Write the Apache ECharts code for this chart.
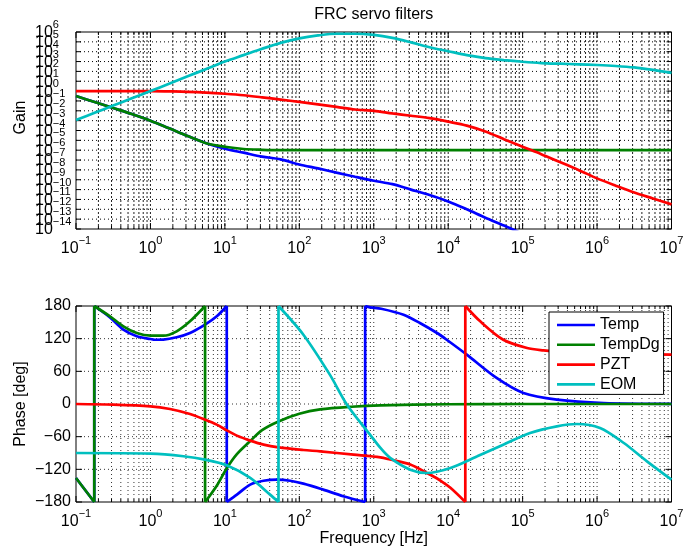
<!DOCTYPE html>
<html><head><meta charset="utf-8">
<script src="https://cdn.jsdelivr.net/npm/echarts@6/dist/echarts.min.js"></script>
<style>html,body{margin:0;padding:0;background:#fff}#c{width:685px;height:554px}</style>
</head><body><div id="c"></div>
<script>
// ---------- data ----------
const seriesNames = ['Temp', 'TempDg', 'PZT', 'EOM'];
const seriesColors = ['#0000ff', '#008000', '#ff0000', '#00bfbf'];

// Gain (magnitude) plot, frequency in Hz
const gainFreq = [0.1, 0.178, 0.316, 0.562, 1, 1.78, 3.16, 5.62, 10, 17.8, 31.6, 56.2, 100, 178, 316, 562,
  1000, 1780, 3160, 5620, 1e4, 1.78e4, 3.16e4, 5.62e4, 1e5, 1.78e5, 3.16e5, 5.62e5, 1e6, 1.78e6, 3.16e6, 5.62e6, 1e7];
const tempGain = [0.316, 0.0776, 0.0191, 0.00468, 0.001, 1.66e-4, 2.75e-5, 5.01e-6, 1.41e-6, 5.62e-7, 2.24e-7, 1.17e-7,
  3.55e-8, 1.41e-8, 5.25e-9, 2.0e-9, 7.94e-10, 3.55e-10, 1e-10, 2.82e-11, 6.31e-12, 1e-12, 1.41e-13, 2.24e-14, 3.16e-15];
const tempDgGain = [0.316, 0.0776, 0.0191, 0.00468, 0.001, 1.66e-4, 2.75e-5, 5.01e-6, 2.24e-6, 1.32e-6, 1.10e-6,
  1e-6, 1e-6, 1e-6, 1e-6, 1e-6, 1e-6, 1e-6, 1e-6, 1e-6, 1e-6, 1e-6, 1e-6, 1e-6, 1e-6, 1e-6, 1e-6, 1e-6, 1e-6, 1e-6, 1e-6, 1e-6, 1e-6];
const pztGain = [1, 1, 1, 1, 1, 0.933, 0.851, 0.708, 0.537, 0.380, 0.234, 0.138, 0.0794, 0.0447, 0.0251, 0.0135,
  0.01, 0.00537, 0.00316, 0.00178, 7.94e-4, 3.16e-4, 7.94e-5, 1.32e-5, 2.24e-6, 3.98e-7, 6.31e-8, 1e-8,
  1.38e-9, 2.51e-10, 5.01e-11, 1.26e-11, 3.16e-12];
const eomGain = [1.17e-3, 6.31e-3, 0.0339, 0.186, 1, 5.62, 31.6, 178, 1000, 4470, 2.0e4, 7.94e4, 2.29e5, 4.47e5,
  6.61e5, 6.61e5, 5.01e5, 2.51e5, 8.91e4, 2.82e4, 1.12e4, 4470, 2240, 1410, 955, 708, 603, 525, 447, 355, 251, 141, 70.8];

// Phase plot (deg), wrapped to [-180, 180]; a repeated frequency marks a wrap
const tempPhFreq = [0.1, 0.176, 0.176, 0.286, 0.433, 0.655, 1.0, 1.15, 1.49, 2.25, 3.40, 5.42, 7.78, 10.6, 10.6,
  14.5, 21.9, 33.1, 50.1, 75.2, 113.5, 209, 389, 767, 767, 891, 1259, 2512, 4169, 7079, 9550, 17783, 44668,
  102329, 288403, 1.23e6, 1e7];
const tempPh = [-136, -180, 180, 159, 136.5, 124.3, 119.4, 118, 118.3, 122.5, 130.4, 145.7, 161, 180, -180,
  -166.5, -148, -141, -139, -141, -146.3, -157.3, -169.4, -180, 180, 177.6, 175, 164, 148.8, 130.4, 118, 90.6, 47.8,
  20.2, 8, 1.8, 0.3];
const tempDgPhFreq = [0.1, 0.176, 0.176, 0.286, 0.433, 0.655, 1.0, 1.49, 2.25, 3.40, 5.42, 5.42, 7.78, 10.6, 14.5,
  21.9, 31.6, 52.5, 100, 190.5, 501, 1230, 1e4, 1e5, 1e7];
const tempDgPh = [-136, -180, 180, 161, 142.7, 130.4, 125.5, 125.5, 133.5, 151.9, 180, -180, -150, -118, -92,
  -68, -48, -32, -18, -10, -5, -2.4, -0.5, 0, 0];
const pztPhFreq = [0.1, 0.316, 1.0, 1.83, 3.40, 5.42, 7.78, 10.6, 14.5, 21.9, 33.1, 52.5, 113.5, 190.5, 537, 1230,
  1660, 3090, 5754, 7943, 10715, 16982, 16982, 26915, 54954, 114815, 190546, 316228, 1e6, 3.16e6, 1e7];
const pztPh = [0, -1.2, -4.3, -9.2, -18.4, -28.8, -37.9, -48.4, -58.1, -67.3, -74.7, -79.6, -84.5, -87, -93, -98,
  -102, -111, -130, -141, -154, -180, 180, 151.8, 118, 102.8, 98.5, 96, 93, 91.5, 90.6];
const eomPhFreq = [0.1, 1.0, 2.77, 5.42, 10.6, 21.9, 40.5, 52.5, 52.5, 113.5, 257, 437, 891, 1230, 1660, 3090,
  5129, 10715, 24547, 54954, 125893, 288403, 537032, 1.096e6, 2.29e6, 4.68e6, 1e7];
const eomPh = [-90, -91.2, -96, -102.2, -112.6, -135.9, -166.5, -180, 180, 127.3, 53.9, -1.2, -56.3, -80.8, -99,
  -120.6, -126.7, -117.5, -96, -74.7, -53.2, -41, -36.7, -44, -71.6, -105.3, -139];

// Tick values and labels
const freqTicks = [0.1, 1, 10, 100, 1e3, 1e4, 1e5, 1e6, 1e7];
const freqTickExp = ['\u22121', '0', '1', '2', '3', '4', '5', '6', '7'];
const gainTicks = [1e6, 1e5, 1e4, 1e3, 100, 10, 1, 0.1, 0.01, 1e-3, 1e-4, 1e-5, 1e-6, 1e-7, 1e-8, 1e-9, 1e-10,
  1e-11, 1e-12, 1e-13, 1e-14];
const gainTickExp = ['6', '5', '4', '3', '2', '1', '0', '\u22121', '\u22122', '\u22123', '\u22124', '\u22125',
  '\u22126', '\u22127', '\u22128', '\u22129', '\u221210', '\u221211', '\u221212', '\u221213', '\u221214'];
const phaseTicks = [180, 120, 60, 0, -60, -120, -180];
const phaseTickLabels = ['180', '120', '60', '0', '\u221260', '\u2212120', '\u2212180'];

// ---------- drawing ----------
const FONT = '"Liberation Sans", Arial, Helvetica, sans-serif';
const F16 = '16px ' + FONT, F11 = '11px ' + FONT;
const mctx = document.createElement('canvas').getContext('2d');
function tw(t, f) { mctx.font = f; return mctx.measureText(t).width; }

const xGridVals = [];
for (let d = -1; d <= 6; d++) for (let m = 1; m <= 9; m++) xGridVals.push([m * Math.pow(10, d), m === 1 ? 1 : 0]);
xGridVals.push([1e7, 1]);

function txt(x, y, text, font, align, valign) {
  return { type: 'text', x: x, y: y, style: { text: text, font: font, fill: '#000', align: align, verticalAlign: valign,
    textAlign: align, textVerticalAlign: valign } };
}

function xGridSeries(gi, yRef, dash, color) {
  return {
    type: 'custom', xAxisIndex: gi, yAxisIndex: gi, silent: true, z: 1, animation: false,
    data: xGridVals.map(v => [v[0], yRef, v[1]]),
    renderItem: function (params, api) {
      const cs = params.coordSys;
      const f = api.value(0), major = api.value(2);
      const x = api.coord([f, api.value(1)])[0];
      const top = cs.y, bot = cs.y + cs.height, L = major ? 6 : 3;
      const ch = [];
      if (x > cs.x + 1 && x < cs.x + cs.width - 1)
        ch.push({ type: 'line', shape: { x1: x, y1: top, x2: x, y2: bot }, style: { stroke: color, lineWidth: 1, lineDash: dash } });
      ch.push({ type: 'line', shape: { x1: x, y1: bot, x2: x, y2: bot - L }, style: { stroke: '#000', lineWidth: 1 } });
      ch.push({ type: 'line', shape: { x1: x, y1: top, x2: x, y2: top + L }, style: { stroke: '#000', lineWidth: 1 } });
      return { type: 'group', children: ch };
    }
  };
}

function xLabelSeries(gi, yRef) {
  return {
    type: 'custom', xAxisIndex: gi, yAxisIndex: gi, silent: true, z: 5, animation: false,
    data: freqTicks.map((f, i) => [f, yRef, i]),
    renderItem: function (params, api) {
      const cs = params.coordSys;
      const i = api.value(2);
      const x = api.coord([api.value(0), api.value(1)])[0];
      const e = freqTickExp[i];
      const wb = tw('10', F16), we = tw(e, F11);
      const x0 = x - (wb + we) / 2;
      const yb = cs.y + cs.height + 20;
      return { type: 'group', children: [txt(x0, yb, '10', F16, 'left', 'middle'), txt(x0 + wb, yb - 8.5, e, F11, 'left', 'middle')] };
    }
  };
}

const gainYSeries = {
  type: 'custom', xAxisIndex: 0, yAxisIndex: 0, silent: true, z: 2, animation: false,
  data: gainTicks.map((v, i) => [1, v, i]),
  renderItem: function (params, api) {
    const cs = params.coordSys;
    const i = api.value(2);
    const y = api.coord([1, api.value(1)])[1];
    const l = cs.x, r = cs.x + cs.width;
    const ch = [];
    if (y > cs.y + 1 && y < cs.y + cs.height - 1)
      ch.push({ type: 'line', shape: { x1: l, y1: y, x2: r, y2: y }, style: { stroke: '#000', lineWidth: 1, lineDash: [1, 3] } });
    ch.push({ type: 'line', shape: { x1: l, y1: y, x2: l + 5, y2: y }, style: { stroke: '#000', lineWidth: 1 } });
    ch.push({ type: 'line', shape: { x1: r, y1: y, x2: r - 5, y2: y }, style: { stroke: '#000', lineWidth: 1 } });
    const wb = tw('10', F16);
    ch.push(txt(35, y + 1, '10', F16, 'left', 'middle'));
    ch.push(txt(35 + wb, y - 7, gainTickExp[i], F11, 'left', 'middle'));
    return { type: 'group', children: ch };
  }
};

const phaseYSeries = {
  type: 'custom', xAxisIndex: 1, yAxisIndex: 1, silent: true, z: 2, animation: false,
  data: phaseTicks.map((v, i) => [1, v, i]),
  renderItem: function (params, api) {
    const cs = params.coordSys;
    const i = api.value(2);
    const y = api.coord([1, api.value(1)])[1];
    const l = cs.x, r = cs.x + cs.width;
    const ch = [];
    if (y > cs.y + 1 && y < cs.y + cs.height - 1)
      ch.push({ type: 'line', shape: { x1: l, y1: y, x2: r, y2: y }, style: { stroke: '#333', lineWidth: 1, lineDash: [1, 3] } });
    ch.push({ type: 'line', shape: { x1: l, y1: y, x2: l + 6, y2: y }, style: { stroke: '#000', lineWidth: 1 } });
    ch.push({ type: 'line', shape: { x1: r, y1: y, x2: r - 6, y2: y }, style: { stroke: '#000', lineWidth: 1 } });
    ch.push(txt(71, y, phaseTickLabels[i], F16, 'right', 'middle'));
    return { type: 'group', children: ch };
  }
};

const LW = 2.7;
function gainSeries(name, xs, ys, color) {
  return {
    name: name, type: 'line', xAxisIndex: 0, yAxisIndex: 0, showSymbol: false, symbol: 'none', smooth: 0.3,
    data: ys.map((v, i) => [xs[i], v]), clip: true, z: 3, animation: false,
    lineStyle: { color: color, width: LW }, itemStyle: { color: color }
  };
}
// phase: smooth segments between wraps + straight vertical wrap lines
function phaseSeries(name, xs, ys, color, z) {
  const seg = [], vert = [];
  for (let i = 0; i < ys.length; i++) {
    if (i > 0 && xs[i] === xs[i - 1]) {
      seg.push(null);
      vert.push([xs[i - 1], ys[i - 1]], [xs[i], ys[i]], null);
    }
    seg.push([xs[i], ys[i]]);
  }
  return [
    { name: name, type: 'line', xAxisIndex: 1, yAxisIndex: 1, showSymbol: false, symbol: 'none', smooth: 0.3,
      connectNulls: false, data: seg, clip: true, z: z, animation: false,
      lineStyle: { color: color, width: LW }, itemStyle: { color: color } },
    { name: name, type: 'line', xAxisIndex: 1, yAxisIndex: 1, showSymbol: false, symbol: 'none', smooth: false,
      connectNulls: false, data: vert, clip: true, z: z, animation: false,
      lineStyle: { color: color, width: LW }, itemStyle: { color: color } }
  ];
}

const chart = echarts.init(document.getElementById('c'), null, { renderer: 'canvas' });
const hiddenAxis = { axisLine: { show: false }, axisTick: { show: false }, axisLabel: { show: false }, splitLine: { show: false } };
chart.setOption({
  animation: false,
  backgroundColor: '#fff',
  grid: [
    { left: 76, right: 13.5, top: 32, height: 197, show: true, borderColor: '#000', borderWidth: 1, backgroundColor: '#fff' },
    { left: 76, right: 13.5, top: 306, height: 196, show: true, borderColor: '#000', borderWidth: 1, backgroundColor: '#fff' }
  ],
  xAxis: [
    Object.assign({ type: 'log', logBase: 10, gridIndex: 0, min: 0.1, max: 1e7 }, hiddenAxis),
    Object.assign({ type: 'log', logBase: 10, gridIndex: 1, min: 0.1, max: 1e7 }, hiddenAxis)
  ],
  yAxis: [
    Object.assign({ type: 'log', logBase: 10, gridIndex: 0, min: 1e-14, max: 1e6 }, hiddenAxis),
    Object.assign({ type: 'value', gridIndex: 1, min: -180, max: 180, interval: 60 }, hiddenAxis)
  ],
  legend: {
    data: seriesNames, orient: 'vertical', left: 549, top: 312, padding: [5, 4, 2, 8], itemGap: 3.8,
    itemWidth: 38, itemHeight: 2.6, icon: 'rect', backgroundColor: '#fff', borderColor: '#000', borderWidth: 1,
    borderRadius: 0, selectedMode: false, textStyle: { fontSize: 16, fontFamily: FONT, color: '#000', lineHeight: 16 }, z: 10
  },
  graphic: [
    { type: 'text', x: 373.8, y: 14.5, style: { text: 'FRC servo filters', font: F16, fill: '#000', align: 'center', verticalAlign: 'middle', textAlign: 'center', textVerticalAlign: 'middle' } },
    { type: 'text', x: 21, y: 117.5, rotation: Math.PI / 2, style: { text: 'Gain', font: F16, fill: '#000', align: 'center', verticalAlign: 'middle', textAlign: 'center', textVerticalAlign: 'middle' } },
    { type: 'text', x: 21, y: 404, rotation: Math.PI / 2, style: { text: 'Phase [deg]', font: F16, fill: '#000', align: 'center', verticalAlign: 'middle', textAlign: 'center', textVerticalAlign: 'middle' } },
    { type: 'text', x: 373.8, y: 539, style: { text: 'Frequency [Hz]', font: F16, fill: '#000', align: 'center', verticalAlign: 'middle', textAlign: 'center', textVerticalAlign: 'middle' } }
  ],
  series: [
    xGridSeries(0, 1, [2, 2], '#222'),
    xGridSeries(1, 0, [1, 3], '#333'),
    gainYSeries, phaseYSeries,
    xLabelSeries(0, 1), xLabelSeries(1, 0),
    gainSeries('Temp', gainFreq, tempGain, seriesColors[0]),
    gainSeries('TempDg', gainFreq, tempDgGain, seriesColors[1]),
    gainSeries('PZT', gainFreq, pztGain, seriesColors[2]),
    gainSeries('EOM', gainFreq, eomGain, seriesColors[3])
  ].concat(
    phaseSeries('Temp', tempPhFreq, tempPh, seriesColors[0], 3),
    phaseSeries('TempDg', tempDgPhFreq, tempDgPh, seriesColors[1], 4),
    phaseSeries('PZT', pztPhFreq, pztPh, seriesColors[2], 5),
    phaseSeries('EOM', eomPhFreq, eomPh, seriesColors[3], 6)
  )
});
</script></body></html>
